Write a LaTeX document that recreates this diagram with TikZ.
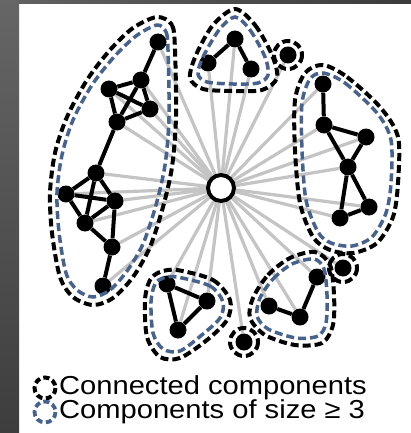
\documentclass[tikz,border=0pt]{standalone}
\usepackage{fontspec}
\setmainfont{Liberation Sans}
\usetikzlibrary{backgrounds}
\definecolor{cblue}{RGB}{72,98,142}
\definecolor{spoke}{RGB}{196,196,196}
\begin{document}
\begin{tikzpicture}[x=1pt,y=-1pt,
  vtx/.style={circle,fill=black,inner sep=0pt,minimum size=17pt},
  ctr/.style={circle,draw=black,line width=4pt,fill=white,inner sep=0pt,minimum size=26pt},
  edge/.style={line width=4pt},
  spk/.style={draw=spoke,line width=3.2pt},
  ccomp/.style={draw=black,line width=4pt,dash pattern=on 8pt off 4pt},
  bcomp/.style={draw=cblue,line width=3.5pt,dash pattern=on 8pt off 4pt},
  lbl/.style={anchor=west,inner sep=0pt,font=\fontsize{26}{30}\selectfont}]
\useasboundingbox (0,0) rectangle (411,433);
% nodes
\node[ctr] (c) at (221,188) {};
\node[vtx] (a1) at (158,42) {};
\node[vtx] (a2) at (141,80) {};
\node[vtx] (a3) at (109,89) {};
\node[vtx] (a4) at (150,109) {};
\node[vtx] (a5) at (117,122) {};
\node[vtx] (a6) at (96,173) {};
\node[vtx] (a7) at (66,194) {};
\node[vtx] (a8) at (115,201) {};
\node[vtx] (a9) at (85,223) {};
\node[vtx] (a10) at (112,247) {};
\node[vtx] (a11) at (103,286) {};
\node[vtx] (t1) at (235,39) {};
\node[vtx] (t2) at (208,63) {};
\node[vtx] (t3) at (251,69) {};
\node[vtx] (r1) at (323,84) {};
\node[vtx] (r2) at (324,125) {};
\node[vtx] (r3) at (366,137) {};
\node[vtx] (r4) at (348,167) {};
\node[vtx] (r5) at (369,207) {};
\node[vtx] (r6) at (340,218) {};
\node[vtx] (q1) at (317,277) {};
\node[vtx] (q2) at (269,306) {};
\node[vtx] (q3) at (300,317) {};
\node[vtx] (b1) at (167,284) {};
\node[vtx] (b2) at (207,301) {};
\node[vtx] (b3) at (178,330) {};
\node[vtx] (s1) at (288,55) {};
\node[vtx] (s2) at (343,268) {};
\node[vtx] (s3) at (244,342) {};
\begin{pgfonlayer}{background}
  \fill[white] (19,4) rectangle (411,433);
  \shade[top color=black!60,bottom color=black!76] (0,0) rectangle (19,433);
  \shade[left color=black!62,right color=black!77] (19,0) rectangle (411,4);
  \foreach \n in {a1,a2,a3,a4,a5,a6,a7,a8,a9,a10,a11,t1,t2,t3,r1,r2,r3,r4,r5,r6,q1,q2,q3,b1,b2,b3,s1,s2,s3}
    \draw[spk] (c) -- (\n);
  % edges
  \draw[edge] (a1)--(a2) (a2)--(a3) (a2)--(a4) (a3)--(a4) (a2)--(a5) (a3)--(a5) (a4)--(a5) (a5)--(a6)
    (a6)--(a7) (a6)--(a8) (a6)--(a9) (a7)--(a8) (a7)--(a9) (a8)--(a9) (a9)--(a10) (a8)--(a10) (a10)--(a11);
  \draw[edge] (t1)--(t2) (t1)--(t3);
  \draw[edge] (r1)--(r2) (r2)--(r3) (r2)--(r4) (r3)--(r4) (r4)--(r5) (r4)--(r6) (r5)--(r6);
  \draw[edge] (q1)--(q3) (q2)--(q3);
  \draw[edge] (b1)--(b2) (b2)--(b3) (b3)--(b1);
\end{pgfonlayer}
% contours: left component
\draw[ccomp] plot[smooth cycle] coordinates {(157,17) (172,25) (175,50) (176,117) (172,167) (163,207) (150,247) (133,277) (113,298) (93,305) (73,297) (60,277) (52,233) (50,193) (55,153) (67,117) (87,80) (110,50) (133,28)};
\draw[bcomp] plot[smooth cycle] coordinates {(157,25) (166,32) (168,50) (169,117) (165,165) (156,205) (143,244) (127,271) (110,290) (93,297) (77,290) (66,273) (59,232) (57,193) (62,155) (73,120) (92,85) (114,57) (136,36)};
% top component
\draw[ccomp] plot[smooth cycle] coordinates {(235,9) (255,25) (272,55) (277,78) (262,90) (233,91) (203,89) (190,78) (196,55) (213,25)};
\draw[bcomp] plot[smooth cycle] coordinates {(235,17) (250,30) (265,57) (268,75) (258,83) (233,84) (207,82) (198,74) (203,57) (219,30)};
% right component
\draw[ccomp] plot[smooth cycle] coordinates {(323,65) (347,77) (380,107) (398,137) (398,183) (393,217) (377,243) (353,253) (330,250) (313,237) (300,203) (295,150) (295,100) (305,73)};
\draw[bcomp] plot[smooth cycle] coordinates {(323,73) (345,83) (377,113) (391,140) (391,183) (386,213) (372,237) (352,246) (331,243) (318,232) (306,200) (302,150) (302,103) (310,79)};
% bottom right component
\draw[ccomp] plot[smooth cycle] coordinates {(253,298) (268,275) (290,258) (315,252) (330,265) (334,295) (333,325) (322,343) (295,345) (265,335) (250,318)};
\draw[bcomp] plot[smooth cycle] coordinates {(260,298) (273,279) (292,264) (314,259) (324,269) (327,295) (326,323) (318,336) (296,338) (268,329) (257,316)};
% bottom left component
\draw[ccomp] plot[smooth cycle] coordinates {(177,270) (213,280) (230,300) (227,320) (207,340) (180,358) (160,357) (147,337) (145,300) (150,280) (160,272)};
\draw[bcomp] plot[smooth cycle] coordinates {(177,277) (210,286) (223,302) (220,318) (203,334) (180,351) (163,349) (153,333) (151,302) (155,284) (163,278)};
% singletons
\draw[ccomp] (s1) circle (14);
\draw[ccomp] (s2) circle (14);
\draw[ccomp] (s3) circle (14);
% legend
\coordinate (l1) at (45,388);
\coordinate (l2) at (45,412);
\draw[ccomp,dash pattern=on 6pt off 3.5pt] (l1) circle (10.5);
\draw[bcomp,line width=3.8pt,dash pattern=on 6pt off 3.5pt] (l2) circle (10.5);
\node[lbl] (t1l) at (59,388) {\scalebox{1.12}[1]{Connected components}};
\node[lbl] (t2l) at (59,412) {\scalebox{1.12}[1]{Components of size ≥ 3}};
\end{tikzpicture}
\end{document}
